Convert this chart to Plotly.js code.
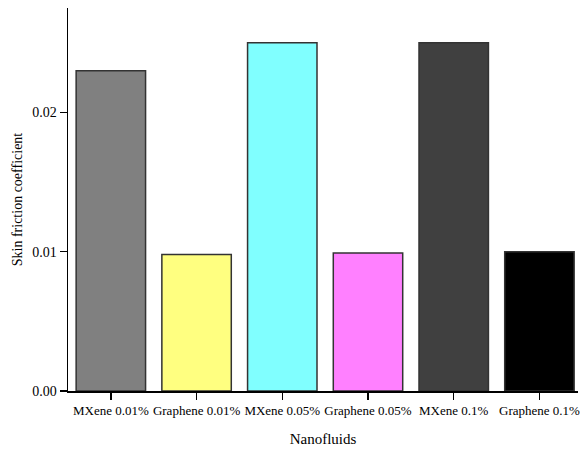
<!DOCTYPE html>
<html>
<head>
<meta charset="utf-8">
<script src="https://cdn.plot.ly/plotly-3.0.1.min.js"></script>
<style>html,body{margin:0;padding:0;background:#fff;overflow:hidden;}#chart{width:581px;height:449px;}</style>
</head>
<body>
<div id="chart"></div>
<script>
const categories = ["MXene 0.01%", "Graphene 0.01%", "MXene 0.05%", "Graphene 0.05%", "MXene 0.1%", "Graphene 0.1%"];
const skinFriction = [0.0230, 0.0098, 0.0250, 0.0099, 0.0250, 0.0100];
const barColors = ["#808080", "#ffff80", "#80ffff", "#ff80ff", "#404040", "#000000"];
const yTickVals = [0, 0.01, 0.02];
const yTickText = ["0.00", "0.01", "0.02"];

const fam = "Liberation Serif";

Plotly.newPlot("chart", [{
  type: "bar",
  x: categories,
  y: skinFriction,
  marker: {color: barColors, line: {color: "#333333", width: 1.5}},
  hoverinfo: "none"
}], {
  width: 581, height: 449,
  margin: {l: 68, r: 3, t: 8, b: 58, autoexpand: false},
  paper_bgcolor: "#fff", plot_bgcolor: "#fff",
  bargap: 0.19,
  font: {family: fam, size: 12, color: "#000"},
  showlegend: false,
  xaxis: {
    type: "category",
    range: [-0.5, 5.45],
    automargin: false,
    showline: true, linecolor: "#000", linewidth: 1.5,
    ticks: "outside", ticklen: 7, tickwidth: 1.5, tickcolor: "#000",
    showgrid: false, zeroline: false,
    tickfont: {family: fam, size: 13, color: "#000"},
    title: {text: "Nanofluids", font: {family: fam, size: 15, color: "#000"}, standoff: 16}
  },
  yaxis: {
    range: [0, 0.0275],
    automargin: false,
    showline: true, linecolor: "#000", linewidth: 1.5,
    ticks: "outside", ticklen: 7, tickwidth: 1.5, tickcolor: "#000",
    tickvals: yTickVals, ticktext: yTickText,
    showgrid: false, zeroline: false,
    tickfont: {family: fam, size: 14, color: "#000"},
    title: {text: "Skin friction coefficient", font: {family: fam, size: 14, color: "#000"}, standoff: 6}
  }
}, {staticPlot: true, displayModeBar: false});
</script>
</body>
</html>
